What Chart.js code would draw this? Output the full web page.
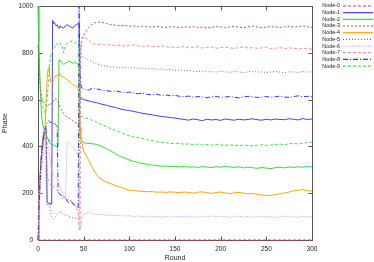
<!DOCTYPE html>
<html><head><meta charset="utf-8">
<script src="https://cdn.jsdelivr.net/npm/chart.js@4"></script>
<style>html,body{margin:0;padding:0;background:#fff}#wrap{width:374px;height:262px}</style>
</head><body><div id="wrap"><canvas id="c"></canvas></div>
<script>
const rounds = [0,1,2,3,4,5,6,7,8,9,10,11,12,13,14,15,16,17,18,19,20,21,22,23,24,
26,28,30,32,34,36,38,40,42,44,45,46,47,48,50,
55,60,65,70,75,80,85,90,95,100,105,110,115,120,125,130,135,140,145,150,
155,160,165,170,175,180,185,190,195,200,205,210,215,220,225,230,235,240,245,250,
255,260,265,270,275,280,285,290,295,300];
const labels = ["Node-0","Node-1","Node-2","Node-3","Node-4","Node-5","Node-6","Node-7","Node-8","Node-9"];
const xTicks = [0,50,100,150,200,250,300];
const yTicks = [0,200,400,600,800,1000];

const node0 = [0,0,0,0,0,0,0,0,0,0,0,0,0,0,0,0,0,0,0,0,0,0,0,0,0,
0,0,0,0,0,0,0,0,0,0,0,0,0,0,0,
0,0,0,0,0,0,0,0,0,0,0,0,0,0,0,0,0,0,0,0,
0,0,0,0,0,0,0,0,0,0,0,0,0,0,0,0,0,0,0,0,
0,0,0,0,0,0,0,0,0,0];
const node1 = [0,150,250,330,380,420,450,470,480,475,160,155,155,160,150,155,940,925,930,920,915,920,910,905,915,
910,905,915,920,915,910,905,915,920,925,930,600,610,605,600,
595,590,586,580,576,570,566,560,556,553,549,545,541,538,535,531,528,526,523,521,
518,515,512,517,514,510,516,513,515,511,517,514,512,516,513,515,518,514,512,516,
513,517,515,514,518,516,513,519,515,517];
const node2 = [1000,850,700,600,530,500,480,470,460,450,440,430,420,415,410,405,410,405,400,405,400,395,400,770,765,
760,750,755,760,765,760,755,760,755,750,745,440,430,425,415,
413,411,408,400,390,380,368,358,350,342,336,331,327,323,320,318,315,316,313,314,
312,315,311,313,310,314,312,309,313,311,315,312,310,313,308,311,309,306,310,307,
305,309,311,308,312,310,313,311,314,312];
const node3 = [830,760,690,640,610,595,590,585,580,575,570,575,580,585,580,585,590,595,600,605,600,595,590,580,570,
555,540,530,525,520,515,510,505,500,500,505,780,820,850,875,
905,925,932,930,925,920,918,915,917,913,915,911,914,912,909,913,910,908,912,910,
907,911,909,912,908,910,906,909,912,910,907,911,913,909,908,911,914,910,907,909,
912,910,908,911,913,909,912,915,911,908];
const node4 = [0,200,260,310,350,390,410,450,500,600,690,730,740,700,675,680,675,680,690,700,705,700,705,710,705,
700,695,690,685,680,670,665,660,655,645,640,480,450,420,380,
345,305,275,258,247,240,232,225,219,213,211,209,208,206,207,204,205,203,206,204,
202,205,203,200,204,206,202,199,203,205,201,198,202,204,200,197,199,195,192,189,
191,194,197,201,205,210,213,215,211,209];
const node5 = [0,130,230,300,360,400,430,450,460,210,150,145,150,140,120,100,95,90,95,100,105,110,115,120,118,
115,110,105,105,100,98,95,95,92,90,95,800,795,790,780,
770,760,752,745,742,738,740,736,738,735,737,733,735,731,733,729,731,727,729,725,
727,723,725,721,719,722,718,720,717,721,719,716,720,718,715,719,721,717,719,716,
718,720,717,715,719,718,716,720,717,719];
const node6 = [0,100,180,250,300,340,370,400,420,430,420,400,380,350,320,300,290,280,275,270,265,260,250,240,230,
210,190,180,420,415,410,400,390,375,360,350,40,60,90,110,
118,112,108,110,105,107,103,106,102,104,100,103,99,102,98,101,97,100,98,101,
99,102,98,100,97,101,99,103,100,98,101,97,99,102,98,100,97,99,101,98,
100,96,99,102,98,100,97,101,99,100];
const node7 = [0,110,210,290,350,390,420,440,450,440,300,260,250,240,235,230,225,230,225,220,215,210,205,200,195,
185,180,175,170,175,165,160,150,140,110,50,40,840,860,870,
855,840,835,838,832,835,830,833,828,831,834,829,826,830,827,825,829,826,822,825,
823,827,821,824,826,820,823,825,819,822,824,821,818,823,825,820,822,819,821,824,
817,820,822,818,821,819,816,820,818,815];
const node8 = [0,120,230,310,370,410,440,460,475,490,500,505,510,505,500,505,500,495,500,495,490,485,205,200,195,
190,185,180,165,160,170,155,150,145,135,1000,700,660,650,645,
640,650,645,640,638,635,637,633,630,632,628,625,627,622,620,623,618,620,616,618,
614,612,615,610,613,611,608,612,614,609,611,613,610,607,611,614,612,609,611,613,
610,612,615,611,609,613,616,612,614,612];
const node9 = [1000,800,680,620,590,570,560,550,540,560,600,650,700,760,790,800,810,815,820,830,840,835,840,845,840,
835,800,830,840,845,850,845,840,845,850,845,540,530,528,525,
518,510,502,492,485,475,468,460,452,445,440,437,432,428,425,420,418,415,413,411,
413,409,411,407,410,406,408,405,409,406,404,407,405,403,406,404,402,405,407,404,
406,408,410,407,411,413,410,414,416,418];

const series = [node0,node1,node2,node3,node4,node5,node6,node7,node8,node9];
const colors = ['#f03a3a','#4040ff','#33dd33','#b85050','#ffa500','#777777','#d4b8ff','#ff8c8c','#3030ff','#3ae83a'];
const dashes = [[3,2],[],[],[2,2],[],[1,2],[2,1],[3,2],[5,2,1,2],[3,2]];
const FONT = '"Liberation Sans", Arial, sans-serif';

const datasets = series.map((vals,i)=>({
  label: labels[i],
  data: rounds.map((r,k)=>({x:r,y:vals[k]})),
  borderColor: colors[i],
  backgroundColor: colors[i],
  borderDash: dashes[i],
  borderWidth: 1,
  pointRadius: 0,
  tension: 0,
  fill: false,
  clip: false,
  order: 10 - i
}));

const framePlugin = {
  id:'frame',
  beforeDatasetsDraw(chart){
    const {ctx, chartArea:{left,right,top,bottom}} = chart;
    const xs = chart.scales.x, ys = chart.scales.y;
    ctx.save();
    ctx.strokeStyle = '#555';
    ctx.lineWidth = 1;
    ctx.setLineDash([]);
    const L=Math.round(left)+0.5, R=Math.round(right)+0.5, T=Math.round(top)+0.5, B=Math.round(bottom)+0.5;
    ctx.strokeRect(L,T,R-L,B-T);
    ctx.beginPath();
    xTicks.forEach(v=>{
      const p = Math.round(xs.getPixelForValue(v))+0.5;
      ctx.moveTo(p,B); ctx.lineTo(p,B-4);
      ctx.moveTo(p,T); ctx.lineTo(p,T+4);
    });
    yTicks.forEach(v=>{
      const p = Math.round(ys.getPixelForValue(v))+0.5;
      ctx.moveTo(L,p); ctx.lineTo(L+4,p);
      ctx.moveTo(R,p); ctx.lineTo(R-4,p);
    });
    ctx.stroke();
    ctx.restore();
  },
  afterDraw(chart){
    const ctx = chart.ctx;
    ctx.save();
    ctx.font = '5.4px ' + FONT;
    ctx.textAlign = 'right';
    ctx.textBaseline = 'middle';
    labels.forEach((lab,i)=>{
      const y = 6 + i*6.67;
      ctx.fillStyle = '#222';
      ctx.fillText(lab, 340, y);
      ctx.strokeStyle = colors[i];
      ctx.lineWidth = 1.2;
      ctx.setLineDash(dashes[i]);
      ctx.beginPath();
      ctx.moveTo(343, y);
      ctx.lineTo(373, y);
      ctx.stroke();
    });
    ctx.restore();
  }
};

new Chart(document.getElementById('c'), {
  type:'line',
  data:{datasets},
  options:{
    responsive:true,
    maintainAspectRatio:false,
    animation:false,
    layout:{padding:{top:0,right:62,bottom:0,left:0}},
    plugins:{legend:{display:false},tooltip:{enabled:false}},
    scales:{
      x:{
        type:'linear', min:0, max:300,
        grid:{display:false, drawTicks:false}, border:{display:false},
        afterBuildTicks(s){ s.ticks = xTicks.map(v=>({value:v})); },
        afterFit(s){ s.height = 22; },
        ticks:{font:{family:FONT, size:6.5}, color:'#222', padding:5, maxRotation:0, callback:v=>String(v)},
        title:{display:true, text:'Round', color:'#222', font:{family:FONT, size:7}, padding:{top:0,bottom:0}}
      },
      y:{
        type:'linear', min:0, max:1000,
        grid:{display:false, drawTicks:false}, border:{display:false},
        afterBuildTicks(s){ s.ticks = yTicks.map(v=>({value:v})); },
        afterFit(s){ s.width = 38; },
        ticks:{font:{family:FONT, size:6.5, lineHeight:0.3}, color:'#222', padding:5, callback:v=>String(v)},
        title:{display:true, text:'Phase', color:'#222', font:{family:FONT, size:7}, padding:{top:1,bottom:0}}
      }
    }
  },
  plugins:[framePlugin]
});
</script>
</body></html>
